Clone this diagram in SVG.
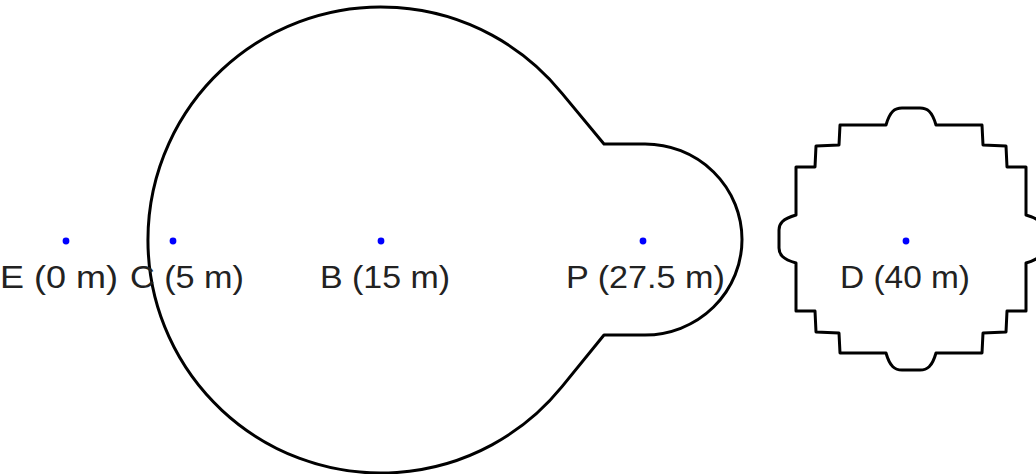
<svg xmlns="http://www.w3.org/2000/svg" width="1036" height="474" viewBox="0 0 1036 474">
<style>
.shape{fill:none;stroke:#000;stroke-width:3;stroke-linejoin:round}
.dot{fill:#0000ff}
.lbl{font-family:"Liberation Sans",Arial,sans-serif;font-size:31px;fill:#222}
</style>
<rect width="1036" height="474" fill="#fff"/>
<g id="region-big">
<path class="shape" d="M 561.8 93.1 A 233 233 0 1 0 561.8 386.9 L 604 335 L 645 335 A 97 95.5 0 0 0 645 144 L 604 144 Z"/>
</g>
<g id="region-D">
<path class="shape" d="M 886 125 C 890 111 895 108 902 108 L 920 108 C 927 108 932 111 936 125 L 982 125 L 983 145 L 1006 146 L 1007 167 L 1026 167 L 1026 215 C 1040 219 1043 224 1043 230 L 1043 248 C 1043 254 1040 259 1026 263 L 1026 311 L 1007 311 L 1006 332 L 983 333 L 982 353 L 936 353 C 932 367 927 370 920 370 L 902 370 C 895 370 890 367 886 353 L 840 353 L 839 333 L 816 332 L 815 311 L 796 311 L 796 263 C 782 259 779 254 779 248 L 779 230 C 779 224 782 219 796 215 L 796 167 L 815 167 L 816 146 L 839 145 L 840 125 Z"/>
</g>
<g id="node-E">
<circle class="dot" cx="66" cy="241" r="3.4"/>
<text class="lbl" x="0" y="288" textLength="118" lengthAdjust="spacingAndGlyphs">E (0 m)</text>
</g>
<g id="node-C">
<circle class="dot" cx="173" cy="241" r="3.4"/>
<text class="lbl" x="130" y="288" textLength="114" lengthAdjust="spacingAndGlyphs">C (5 m)</text>
</g>
<g id="node-B">
<circle class="dot" cx="381" cy="241" r="3.4"/>
<text class="lbl" x="320" y="288" textLength="130" lengthAdjust="spacingAndGlyphs">B (15 m)</text>
</g>
<g id="node-P">
<circle class="dot" cx="643" cy="241" r="3.4"/>
<text class="lbl" x="566" y="288" textLength="159" lengthAdjust="spacingAndGlyphs">P (27.5 m)</text>
</g>
<g id="node-D">
<circle class="dot" cx="906" cy="241" r="3.4"/>
<text class="lbl" x="840" y="288" textLength="130" lengthAdjust="spacingAndGlyphs">D (40 m)</text>
</g>
<g id="connectors"></g>
</svg>
